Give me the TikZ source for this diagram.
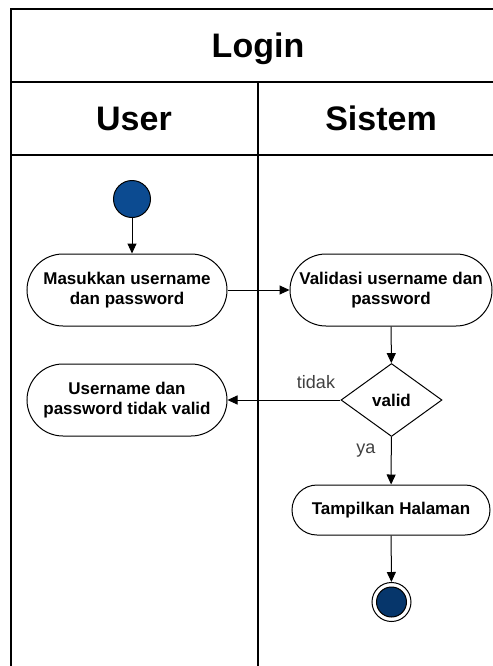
\documentclass[tikz,border=0pt]{standalone}
\usepackage{fontspec}
\setmainfont{Liberation Sans}
\usetikzlibrary{arrows.meta,shapes.geometric}
\definecolor{startblue}{HTML}{0C4B91}
\definecolor{endblue}{HTML}{06366B}
\tikzset{
  act/.style={draw, line width=0.5pt, rounded corners=#1, minimum height=2*#1, minimum width=100pt,
    inner sep=0pt, align=center, font=\bfseries\fontsize{8.5}{10}\selectfont},
  lane/.style={line width=0.6pt},
  arr/.style={-{Triangle[length=5pt,width=4.5pt]}, line width=0.5pt},
  head/.style={font=\bfseries\fontsize{17}{20}\selectfont, anchor=base},
  lbl/.style={font=\fontsize{9}{10}\selectfont, text=black!75, anchor=base}
}
\begin{document}
\begin{tikzpicture}[x=0.5pt, y=-0.5pt]
\useasboundingbox (0,0) rectangle (493,666);
% lanes
\draw[lane] (11,666) -- (11,9) -- (493,9);
\draw[lane] (11,82) -- (493,82);
\draw[lane] (11,155) -- (493,155);
\draw[lane] (258,82) -- (258,666);

\node[head] (title) at (258,57) {Login};
\node[head] (user) at (134,130) {User};
\node[head] (sistem) at (381,130) {Sistem};

% user lane
\node[circle, draw, line width=0.5pt, fill=startblue, minimum size=18.5pt, inner sep=0pt] (start) at (132,199) {};
\node[act=18pt] (masuk) at (127,290) {Masukkan username\\dan password};
\node[act=18pt] (gagal) at (127,400) {Username dan\\password tidak valid};

% sistem lane
\node[act=18pt, minimum width=101pt] (validasi) at (391,290) {Validasi username dan\\password};
\node[diamond, draw, line width=0.5pt, minimum width=50.5pt, minimum height=36.5pt, inner sep=0pt,
  font=\bfseries\fontsize{8.5}{10}\selectfont] (valid) at (391.5,400) {valid};
\node[act=12.5pt, minimum width=99pt] (tampil) at (391,510) {Tampilkan Halaman};
\node[circle, draw, line width=0.5pt, minimum size=19.5pt, inner sep=0pt] (fin) at (391.5,602) {};
\node[circle, draw, line width=0.5pt, fill=endblue, minimum size=15pt, inner sep=0pt] (finin) at (fin) {};

\node[lbl] (tidak) at (316,388) {tidak};
\node[lbl] (ya) at (366,453) {ya};

\draw[arr] (start) -- (start |- masuk.north);
\draw[arr] (masuk) -- (validasi);
\draw[arr] (validasi) -- (valid);
\draw[arr] (valid) -- (gagal);
\draw[arr] (valid) -- (tampil);
\draw[arr] (tampil) -- (fin);
\end{tikzpicture}
\end{document}
